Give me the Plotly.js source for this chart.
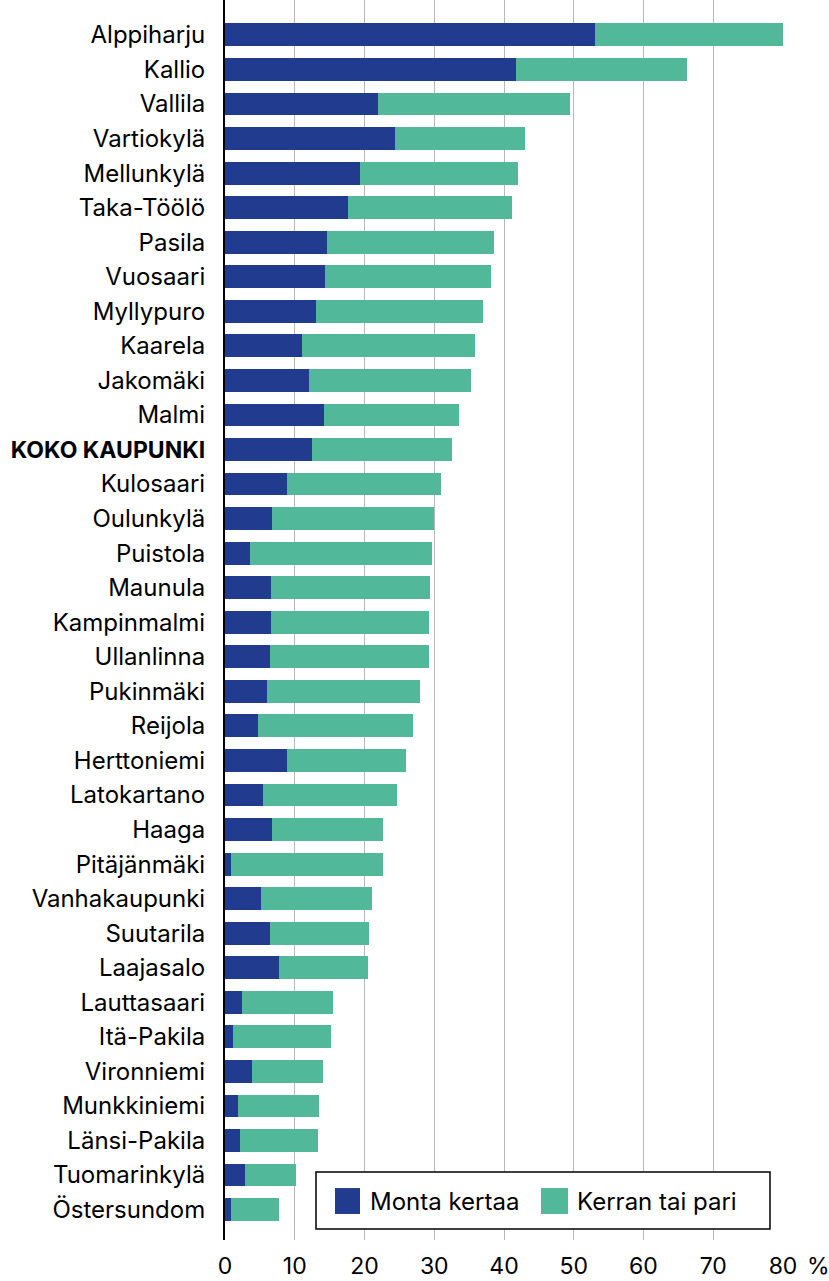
<!DOCTYPE html>
<html>
<head>
<meta charset="utf-8">
<script src="https://cdn.plot.ly/plotly-3.0.1.min.js"></script>
<style>html,body{margin:0;padding:0;background:#fff;}#chart{width:829px;height:1281px;}</style>
</head>
<body>
<div id="chart"></div>
<script>
const categories = ["Alppiharju","Kallio","Vallila","Vartiokylä","Mellunkylä","Taka-Töölö","Pasila","Vuosaari","Myllypuro","Kaarela","Jakomäki","Malmi","KOKO KAUPUNKI","Kulosaari","Oulunkylä","Puistola","Maunula","Kampinmalmi","Ullanlinna","Pukinmäki","Reijola","Herttoniemi","Latokartano","Haaga","Pitäjänmäki","Vanhakaupunki","Suutarila","Laajasalo","Lauttasaari","Itä-Pakila","Vironniemi","Munkkiniemi","Länsi-Pakila","Tuomarinkylä","Östersundom"];
const montaKertaa = [53.0,41.7,22.0,24.4,19.3,17.6,14.6,14.4,13.0,11.1,12.0,14.2,12.5,8.9,6.7,3.6,6.6,6.6,6.5,6.0,4.7,8.9,5.5,6.7,0.8,5.2,6.4,7.7,2.5,1.1,3.8,1.9,2.2,2.8,0.8];
const kerranTaiPari = [27.0,24.6,27.5,18.6,22.7,23.5,23.9,23.7,24.0,24.7,23.2,19.4,20.1,22.1,23.2,26.1,22.8,22.6,22.7,22.0,22.3,17.1,19.2,15.9,21.8,15.9,14.2,12.8,13.0,14.1,10.2,11.6,11.2,7.4,6.9];
const seriesNames = ["Monta kertaa","Kerran tai pari"];
const seriesColors = ["#213c8f","#51b899"];
const xTickVals = [0,10,20,30,40,50,60,70,80];
const xTickText = ["0","10","20","30","40","50","60","70","80"];
const unitLabel = "%";

const FONT = "Inter, 'Liberation Sans', Arial, sans-serif";
const catLabels = categories.map(c => c === "KOKO KAUPUNKI" ? "<span style='font-size:23px'><b>" + c + "</b></span>" : c);

const traces = [
  {type:"bar", orientation:"h", name:seriesNames[0], y:categories, x:montaKertaa,
   marker:{color:seriesColors[0], line:{width:0}}, hoverinfo:"x+y"},
  {type:"bar", orientation:"h", name:seriesNames[1], y:categories, x:kerranTaiPari,
   marker:{color:seriesColors[1], line:{width:0}}, hoverinfo:"x+y"}
];

// legend frame and enlarged swatches (paper coordinates)
const shapes = [
  {type:"rect", xref:"paper", yref:"paper", x0:0.1631, x1:0.9767, y0:0.0089, y1:0.0548,
   fillcolor:"#fff", line:{color:"#000", width:1.5}, layer:"above"},
  {type:"rect", xref:"paper", yref:"paper", x0:0.1971, x1:0.2419, y0:0.0210, y1:0.0419,
   fillcolor:seriesColors[0], line:{width:0}, layer:"above"},
  {type:"rect", xref:"paper", yref:"paper", x0:0.5663, x1:0.6147, y0:0.0210, y1:0.0419,
   fillcolor:seriesColors[1], line:{width:0}, layer:"above"}
];

const layout = {
  width:829, height:1281,
  margin:{l:225, r:46, t:0, b:41},
  barmode:"stack", bargap:0.34,
  paper_bgcolor:"#fff", plot_bgcolor:"#fff",
  font:{family:FONT, size:23, color:"#000"},
  xaxis:{range:[0,80], tickvals:xTickVals, ticktext:xTickText, showgrid:true, gridcolor:"#b8b8b8", gridwidth:1,
         zeroline:false, showline:false, ticks:"", ticklabelstandoff:10, tickfont:{size:23, color:"#000"}, fixedrange:true},
  yaxis:{type:"category", categoryorder:"array", categoryarray:categories, range:[34.88,-1.01],
         tickvals:categories, ticktext:catLabels,
         showgrid:false, zeroline:false, showline:true, linecolor:"#000", linewidth:2, ticks:"",
         ticklabelstandoff:13, tickfont:{size:24, color:"#000"}, fixedrange:true},
  showlegend:true,
  legend:{orientation:"h", x:0.1882, y:0.0315, xanchor:"left", yanchor:"middle",
          bgcolor:"rgba(0,0,0,0)", borderwidth:0, font:{size:24, color:"#000"},
          entrywidth:162, traceorder:"normal"},
  shapes:shapes,
  annotations:[{xref:"paper", yref:"paper", x:1, y:0, xanchor:"left", yanchor:"top", xshift:22, yshift:-10,
                text:unitLabel, showarrow:false, font:{size:23, color:"#000"}}]
};

Plotly.newPlot("chart", traces, layout, {displayModeBar:false, staticPlot:true});
</script>
</body>
</html>
